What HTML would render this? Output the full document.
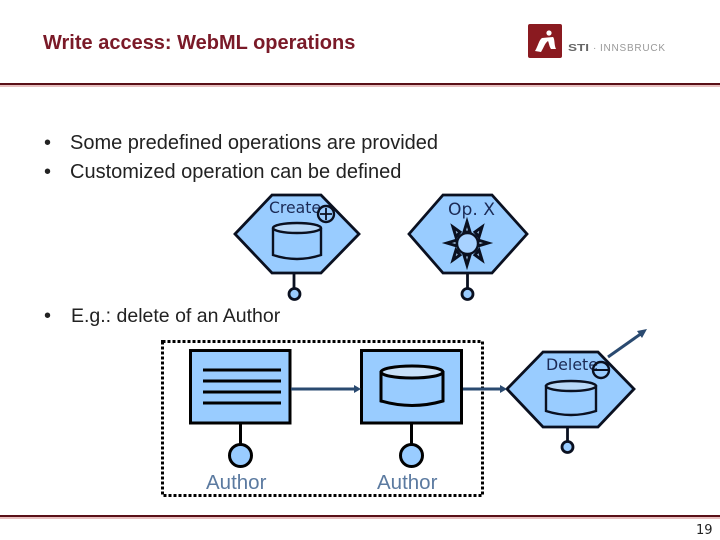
<!DOCTYPE html>
<html>
<head>
<meta charset="utf-8">
<style>
html,body{margin:0;padding:0;background:#fff}
svg{display:block}
text{font-family:"Liberation Sans",sans-serif}
.d{font-family:"DejaVu Sans",sans-serif}
</style>
</head>
<body>
<svg width="720" height="540" viewBox="0 0 720 540" xmlns="http://www.w3.org/2000/svg">
<!-- header -->
<text x="43" y="49" font-size="20" font-weight="bold" fill="#7a1a28">Write access: WebML operations</text>
<rect x="0" y="83" width="720" height="2" fill="#5a1018"/>
<rect x="0" y="85" width="720" height="2" fill="#e8c0c0"/>
<!-- logo -->
<rect x="528" y="24" width="34" height="34" rx="2" fill="#8a1a20"/>
<circle cx="549" cy="33" r="2.600" fill="#fff"/>
<path d="M535 51 C538 46 539 40 542 38 L553 37 C555 39 554 45 556 49 L551 49 C549 46 549 43 548 41 C545 43 544 47 541 52 Z" fill="#fff"/>
<text x="568" y="51" font-size="10" font-weight="bold" fill="#666" textLength="21" lengthAdjust="spacingAndGlyphs">STI</text>
<text x="593" y="51" font-size="10" fill="#999">·</text>
<text x="600" y="51" font-size="10" fill="#999" textLength="65">INNSBRUCK</text>
<!-- bullets -->
<g fill="#222">
<text x="44" y="149" font-size="20">•</text><text x="70" y="149" font-size="20">Some predefined operations are provided</text>
<text x="44" y="178" font-size="20">•</text><text x="70" y="178" font-size="20">Customized operation can be defined</text>
<text x="44" y="322" font-size="20">•</text><text x="71" y="322" font-size="19.500">E.g.: delete of an Author</text>
</g>
<!-- dashed box -->
<rect x="162.500" y="341.500" width="320" height="154" fill="none" stroke="#000" stroke-width="3" stroke-dasharray="3 2"/>
<!-- hexagon create -->
<g stroke="#0a1020" stroke-width="2.800" fill="#99ccff">
<polygon points="235,234 272,195 321,195 359,234 321,273 272,273"/>
<line x1="294" y1="273" x2="294" y2="289"/>
<circle cx="294.500" cy="294" r="5.500"/>
<path d="M273 228 V255 Q297 263 321 255 V228" stroke-width="2.400"/>
<ellipse cx="297" cy="228" rx="24" ry="5" fill="#b8d8f8" stroke-width="2.400"/>
</g>
<text x="269" y="213" class="d" font-size="16" fill="#1b2a55" textLength="52" lengthAdjust="spacingAndGlyphs">Create</text>
<circle cx="326" cy="214" r="8" fill="none" stroke="#0a1020" stroke-width="2.400"/>
<path d="M320 214H332M326 208V220" stroke="#0a1020" stroke-width="1.800"/>
<!-- hexagon op x -->
<g stroke="#0a1020" stroke-width="2.800" fill="#99ccff">
<polygon points="409,234 443,195 492,195 527,234 492,273 443,273"/>
<line x1="467.500" y1="273" x2="467.500" y2="289"/>
<circle cx="467.500" cy="294" r="5.500"/>
</g>
<text x="448" y="215" class="d" font-size="17" fill="#1b2a55" textLength="47" lengthAdjust="spacingAndGlyphs">Op. X</text>
<g fill="#a8c8e8" stroke="#0a1020" stroke-width="3" stroke-linejoin="miter">
<polygon points="467,222 464,232 470,232"/>
<polygon points="467,265 464,255 470,255"/>
<polygon points="447,243 457,240 457,246"/>
<polygon points="488,243 478,240 478,246"/>
<polygon points="453,227 460,232 456,237"/>
<polygon points="482,227 475,232 479,237"/>
<polygon points="453,260 460,255 456,250"/>
<polygon points="482,260 475,255 479,250"/>
</g>
<circle cx="467.500" cy="243.500" r="10.500" fill="#a8d2ff" stroke="#0a1020" stroke-width="2.400"/>
<!-- box 1 -->
<g stroke="#000" stroke-width="3" fill="#99ccff">
<rect x="190.500" y="350.500" width="99.500" height="72.500"/>
<path d="M203 370H281M203 381H281M203 392H281M203 403H281" fill="none" stroke-width="3"/>
<line x1="240.500" y1="423" x2="240.500" y2="444"/>
<circle cx="240.500" cy="455.500" r="11"/>
</g>
<!-- box 2 -->
<g stroke="#000" stroke-width="3" fill="#99ccff">
<rect x="361.500" y="350.500" width="100" height="72.500"/>
<path d="M381 371 V401 Q412 410 443 401 V371"/>
<ellipse cx="412" cy="372" rx="31" ry="6" fill="#c8e0f8"/>
<line x1="411.500" y1="423" x2="411.500" y2="444"/>
<circle cx="411.500" cy="455.500" r="11"/>
</g>
<text x="206" y="489" font-size="20.500" fill="#5b7aa0">Author</text>
<text x="377" y="489" font-size="20.500" fill="#5b7aa0">Author</text>
<!-- delete hex -->
<g stroke="#0a1020" stroke-width="2.800" fill="#99ccff">
<polygon points="507,389 543,352 598,352 634,389 598,427 543,427"/>
<line x1="567.500" y1="427" x2="567.500" y2="442"/>
<circle cx="567.500" cy="447" r="5.500"/>
<path d="M546 385 V411 Q571 419 596 411 V385" stroke-width="2.400"/>
<ellipse cx="571" cy="386" rx="25" ry="5" fill="#b8d8f8" stroke-width="2.400"/>
</g>
<text x="546" y="370" class="d" font-size="16" fill="#1b2a55" textLength="52" lengthAdjust="spacingAndGlyphs">Delete</text>
<circle cx="601" cy="370" r="8" fill="none" stroke="#0a1020" stroke-width="2.400"/>
<path d="M594 370H608" stroke="#0a1020" stroke-width="2"/>
<!-- arrows -->
<g stroke="#2a4a70" stroke-width="3" fill="#2a4a70">
<line x1="291" y1="389" x2="355" y2="389"/>
<polygon points="361,389 354,385 354,393" stroke="none"/>
<line x1="463" y1="389" x2="501" y2="389"/>
<polygon points="507,389 500,385 500,393" stroke="none"/>
<line x1="608" y1="357" x2="642" y2="333"/>
<polygon points="647,329 637,331 642,338" stroke="none"/>
</g>
<!-- footer -->
<rect x="0" y="515" width="720" height="2" fill="#5a1018"/>
<rect x="0" y="517" width="720" height="2" fill="#e8c0c0"/>
<text x="696" y="534" class="d" font-size="13" fill="#222">19</text>
</svg>
</body>
</html>
